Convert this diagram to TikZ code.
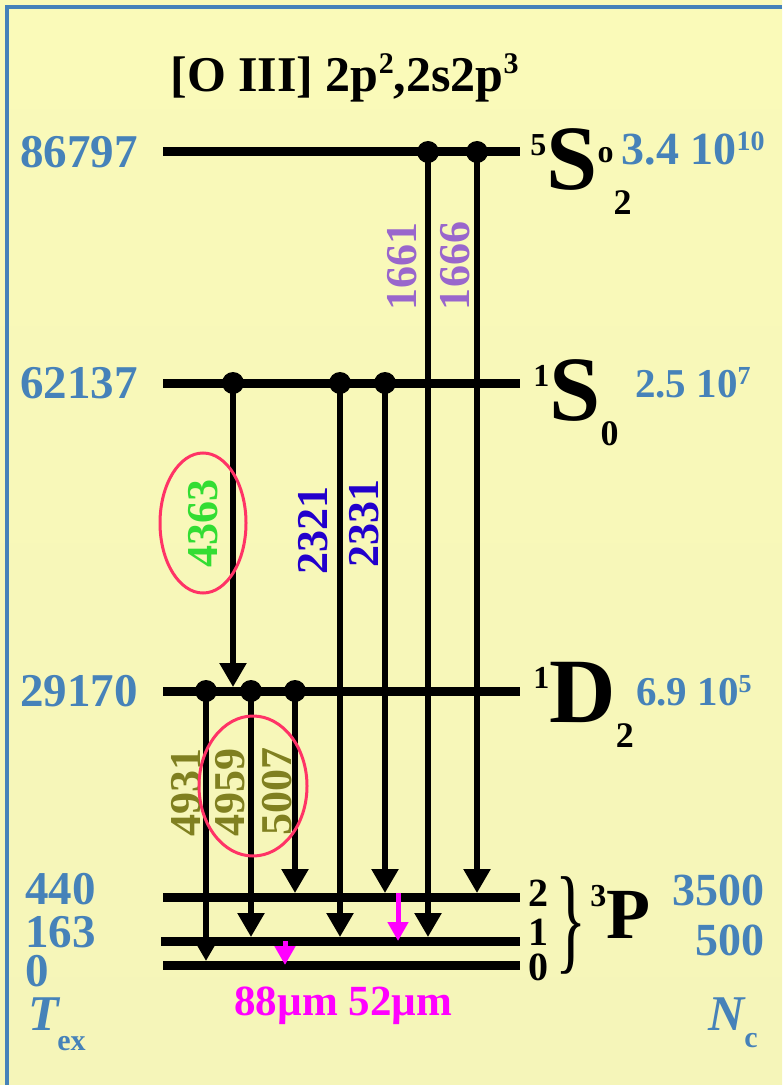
\documentclass[tikz,border=0pt]{standalone}
\usepackage{fontspec}
\setmainfont{Liberation Serif}
\usetikzlibrary{arrows.meta, positioning}

\newcommand{\setfs}[1]{\fontsize{#1}{#1}\selectfont}

\definecolor{steel}{RGB}{70,130,185}
\definecolor{uvpurple}{RGB}{153,102,204}
\definecolor{auroral}{RGB}{51,221,51}
\definecolor{uvblue}{RGB}{34,0,204}
\definecolor{nebolive}{RGB}{128,128,32}
\definecolor{ringred}{RGB}{255,51,102}
\definecolor{firpink}{RGB}{255,0,255}
\definecolor{bgtop}{RGB}{250,250,185}
\definecolor{bgmid}{RGB}{228,228,250}
\definecolor{bgbot}{RGB}{245,245,185}

\begin{document}
\begin{tikzpicture}[
    x=0.5pt, y=-0.5pt,
    level/.style={line width=4.5pt},
    trans/.style={line width=2.75pt, -{Triangle[width=13pt, length=12pt]}},
    fir/.style={firpink, line width=2.5pt, -{Triangle[width=10pt, length=9.5pt]}},
    dot/.style={circle, fill=black, inner sep=0pt, minimum size=11pt},
    energy/.style={text=steel, font=\setfs{23.5}\bfseries, inner sep=0pt, anchor=base west},
    crit/.style={text=steel, font=\setfs{23}\bfseries, inner sep=0pt, anchor=base east},
    wave/.style={rotate=90, font=\setfs{22}\bfseries, inner sep=0pt},
    term/.style={font=\bfseries, inner sep=0pt, anchor=base west},
    ring/.style={ringred, line width=1.5pt},
]

% ========== BACKGROUND ==========
\useasboundingbox (0,0) rectangle (782,1085);
\shade[top color=bgtop, middle color=bgmid, bottom color=bgbot] (0,0) rectangle (782,1085);
\draw[steel, line width=2pt] (7,1085) -- (7,7) -- (782,7);

% title
\node[term, font=\setfs{25}\bfseries] (title) at (170,92) {[O III] 2p\raisebox{9pt}{\setfs{15}2},2s2p\raisebox{9pt}{\setfs{15}3}};

% ========== LEVELS ==========
\coordinate (S5w) at (163,152);  \coordinate (S5e) at (520,152);
\coordinate (S1w) at (163,383);  \coordinate (S1e) at (520,383);
\coordinate (D2w) at (163,691);  \coordinate (D2e) at (520,691);
\coordinate (P2w) at (163,897);  \coordinate (P2e) at (520,897);
\coordinate (P1w) at (161,941);  \coordinate (P1e) at (520,941);
\coordinate (P0w) at (163,965);  \coordinate (P0e) at (520,965);

\draw[level] (S5w) -- (S5e);
\draw[level] (S1w) -- (S1e);
\draw[level] (D2w) -- (D2e);
\draw[level] (P2w) -- (P2e);
\draw[level] (P1w) -- (P1e);
\draw[level] (P0w) -- (P0e);

% excitation energies (left)
\node[energy] (e86797) at (20,168) {86797};
\node[energy] (e62137) at (20,398) {62137};
\node[energy] (e29170) at (20,706) {29170};
\node[energy] (e440) at (25,904) {440};
\node[energy] (e163) at (25,947) {163};
\node[energy] (e0) at (25,986) {0};
\node[energy, font=\setfs{25}\bfseries\itshape] (Tex) at (28,1030) {T};
\node[energy, font=\setfs{15}\bfseries] (Texsub) at (57,1050) {ex};

% terms (right)
\node[term] (S5lab) at (530,190) {\raisebox{17pt}{\setfs{16}5}\setfs{46}S\raisebox{13.5pt}{\setfs{16}o}\raisebox{-12.5pt}{\setfs{18}2}};
\node[term] (S1lab) at (533,420) {\raisebox{17pt}{\setfs{16}1}\setfs{46}S\raisebox{-12.5pt}{\setfs{18}0}};
\node[term] (D2lab) at (533,722) {\raisebox{17pt}{\setfs{16}1}\setfs{46}D\raisebox{-12.5pt}{\setfs{18}2}};
\node[term, font=\setfs{20}\bfseries] (J2) at (528,906) {2};
\node[term, font=\setfs{20}\bfseries] (J1) at (528,945) {1};
\node[term, font=\setfs{20}\bfseries] (J0) at (528,980) {0};
\node[inner sep=0pt] (brace) at (571,925) {\scalebox{0.55}[1]{\setfs{59}\}}};
\node[term] (P3lab) at (590,938) {\raisebox{16pt}{\setfs{16}3}\setfs{36}P};

% critical densities (right)
\node[crit] (n5S) at (765,165) {3.4 10\raisebox{7pt}{\setfs{14}10}};
\node[crit, font=\setfs{20.5}\bfseries] (n1S) at (751,397) {2.5 10\raisebox{6.5pt}{\setfs{13}7}};
\node[crit, font=\setfs{20.5}\bfseries] (n1D) at (752,705) {6.9 10\raisebox{6.5pt}{\setfs{13}5}};
\node[crit] (n3P2) at (765,905) {3500};
\node[crit] (n3P1) at (765,955) {500};
\node[crit, font=\setfs{25}\bfseries\itshape] (Nc) at (745,1030) {N};
\node[energy, font=\setfs{15}\bfseries] (Ncsub) at (744,1047) {c};

% ========== TRANSITIONS ==========
\node[dot] (d1661) at (428,152) {};
\node[dot] (d1666) at (477,152) {};
\node[dot] (d4363) at (233,383) {};
\node[dot] (d2321) at (340,383) {};
\node[dot] (d2331) at (385,383) {};
\node[dot] (d4931) at (206,691) {};
\node[dot] (d4959) at (251,691) {};
\node[dot] (d5007) at (295,691) {};

\draw[trans] (d1661.center) -- ([yshift=2pt]d1661 |- P1w);
\draw[trans] (d1666.center) -- ([yshift=2pt]d1666 |- P2w);
\draw[trans] (d4363.center) -- ([yshift=2pt]d4363 |- D2w);
\draw[trans] (d2321.center) -- ([yshift=2pt]d2321 |- P1w);
\draw[trans] (d2331.center) -- ([yshift=2pt]d2331 |- P2w);
\draw[trans] (d4931.center) -- ([yshift=2pt]d4931 |- P0w);
\draw[trans] (d4959.center) -- ([yshift=2pt]d4959 |- P1w);
\draw[trans] (d5007.center) -- ([yshift=2pt]d5007 |- P2w);

% fine structure lines
\coordinate (m52) at (398,893);
\coordinate (m88) at (285,941);
\draw[fir] (m52) -- (m52 |- P1w);
\draw[fir] (m88) -- (m88 |- P0w);
\node[term, text=firpink, font=\setfs{21.5}\bfseries] (firlab) at (234,1015) {88µm 52µm};

% wavelengths
\node[wave, text=uvpurple] (w1661) at (402,267) {1661};
\node[wave, text=uvpurple] (w1666) at (455,266) {1666};
\node[wave, text=auroral] (w4363) at (203,523) {4363};
\node[wave, text=uvblue] (w2321) at (313,530) {2321};
\node[wave, text=uvblue] (w2331) at (364,523) {2331};
\node[wave, text=nebolive] (w4931) at (186,792) {4931};
\node[wave, text=nebolive] (w4959) at (230,792) {4959};
\node[wave, text=nebolive] (w5007) at (277,791) {5007};

% rings round the auroral and nebular lines
\draw[ring] (w4363) ellipse [x radius=43, y radius=70];
\draw[ring] ([xshift=11.5pt, yshift=3pt]w4959) ellipse [x radius=54, y radius=70];

\end{tikzpicture}
\end{document}
